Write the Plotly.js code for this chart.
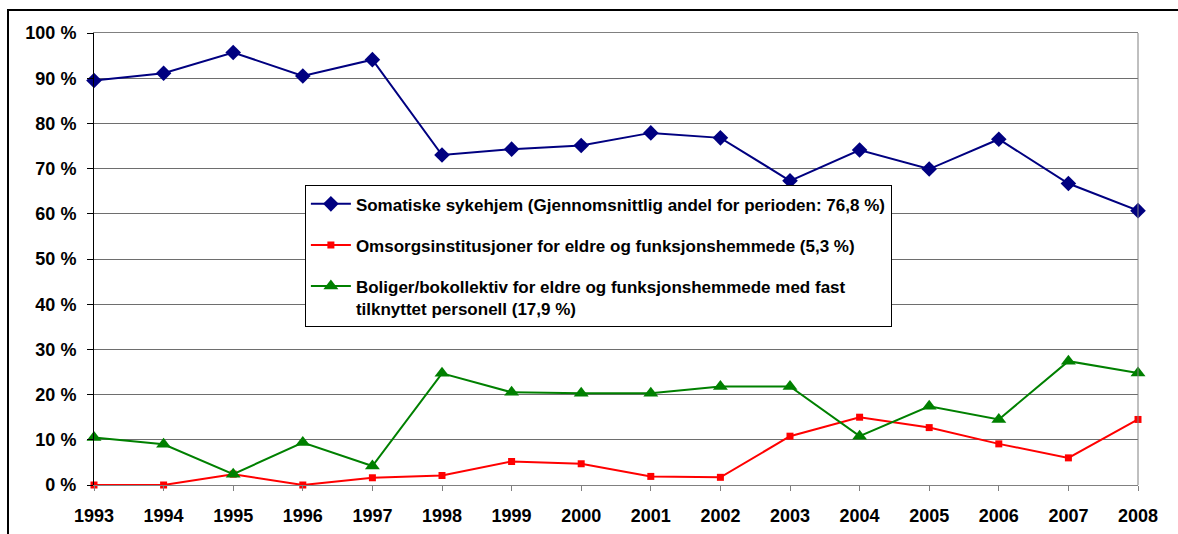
<!DOCTYPE html>
<html>
<head>
<meta charset="utf-8">
<script src="https://cdn.plot.ly/plotly-3.0.1.min.js"></script>
<style>
  body { margin: 0; background: #fff; }
  #graph { position: absolute; left: 0; top: 0; width: 1178px; height: 534px; }
  #frame { position: absolute; left: 7px; top: 9px; right: 0; bottom: 0;
           border-left: 2px solid #000; border-top: 2px solid #000; pointer-events: none; }
</style>
</head>
<body>
<div id="graph"></div>
<div id="frame"></div>
<script>
var years = [1993, 1994, 1995, 1996, 1997, 1998, 1999, 2000, 2001, 2002, 2003, 2004, 2005, 2006, 2007, 2008];

var somatiske = [89.5, 91.1, 95.7, 90.5, 94.1, 73.0, 74.3, 75.1, 77.9, 76.8, 67.3, 74.1, 69.9, 76.5, 66.7, 60.7];
var omsorg = [0, 0, 2.4, 0, 1.6, 2.1, 5.2, 4.7, 1.9, 1.7, 10.8, 15.0, 12.7, 9.1, 6.0, 14.5];
var boliger = [10.5, 9.0, 2.4, 9.4, 4.2, 24.7, 20.5, 20.3, 20.3, 21.8, 21.8, 10.8, 17.4, 14.5, 27.4, 24.8];

var names = [
    'Somatiske sykehjem (Gjennomsnittlig andel for perioden: 76,8 %)',
    'Omsorgsinstitusjoner for eldre og funksjonshemmede (5,3 %)',
    'Boliger/bokollektiv for eldre og funksjonshemmede med fast<br>tilknyttet personell (17,9 %)'
];

var font = '"Liberation Sans", Arial, sans-serif';

function plot() {
    var graphDocument = document.getElementById('graph');

    var somatiske_trace = {
        x: years, y: somatiske, name: names[0], legendgroup: 'a',
        type: 'scatter', mode: 'lines+markers', cliponaxis: false,
        line: {color: '#000080', width: 2},
        marker: {symbol: 'diamond', size: 12, color: '#000080'},
    };

    var omsorg_trace = {
        x: years, y: omsorg, name: names[1], legendgroup: 'b',
        type: 'scatter', mode: 'lines+markers', cliponaxis: false,
        line: {color: '#ff0000', width: 2},
        marker: {symbol: 'square', size: 7, color: '#ff0000'},
    };

    var boliger_trace = {
        x: years, y: boliger, name: names[2], legendgroup: 'c',
        type: 'scatter', mode: 'lines+markers', cliponaxis: false,
        line: {color: '#008000', width: 2},
        marker: {symbol: 'triangle-up', size: 13, color: '#008000'},
    };

    var layout = {
        width: 1178,
        height: 534,
        margin: {l: 94, r: 40, t: 33, b: 49},
        paper_bgcolor: '#fff',
        plot_bgcolor: '#fff',
        font: {family: font, color: '#000'},
        showlegend: true,
        legend: {
            x: 0.202, y: 0.663, xanchor: 'left', yanchor: 'top',
            bgcolor: '#fff', bordercolor: '#000', borderwidth: 1,
            font: {family: font, size: 17, color: '#000', weight: 'bold'},
            tracegroupgap: 16, valign: 'top', itemwidth: 40,
        },
        xaxis: {
            range: [1993, 2008], dtick: 1, tickformat: 'd',
            showgrid: false, zeroline: false,
            showline: true, linecolor: '#808080', linewidth: 1, mirror: true,
            ticks: 'outside', ticklen: 5, tickcolor: '#808080',
            ticklabelstandoff: 9,
            tickfont: {family: font, size: 18, weight: 'bold'},
        },
        yaxis: {
            range: [0, 100], dtick: 10, ticksuffix: ' %',
            showgrid: true, gridcolor: '#6e6e6e', gridwidth: 1, zeroline: false,
            showline: true, linecolor: '#000', linewidth: 1,
            ticks: 'outside', ticklen: 6, tickcolor: '#000',
            ticklabelstandoff: 7,
            tickfont: {family: font, size: 18, weight: 'bold'},
        },
        shapes: [
            {type: 'line', xref: 'paper', yref: 'paper', x0: 1, x1: 1, y0: 0, y1: 1,
             line: {color: '#808080', width: 1}},
        ],
    };

    Plotly.newPlot(graphDocument, [somatiske_trace, omsorg_trace, boliger_trace], layout, {displayModeBar: false, staticPlot: true});
}

plot();
</script>
</body>
</html>
